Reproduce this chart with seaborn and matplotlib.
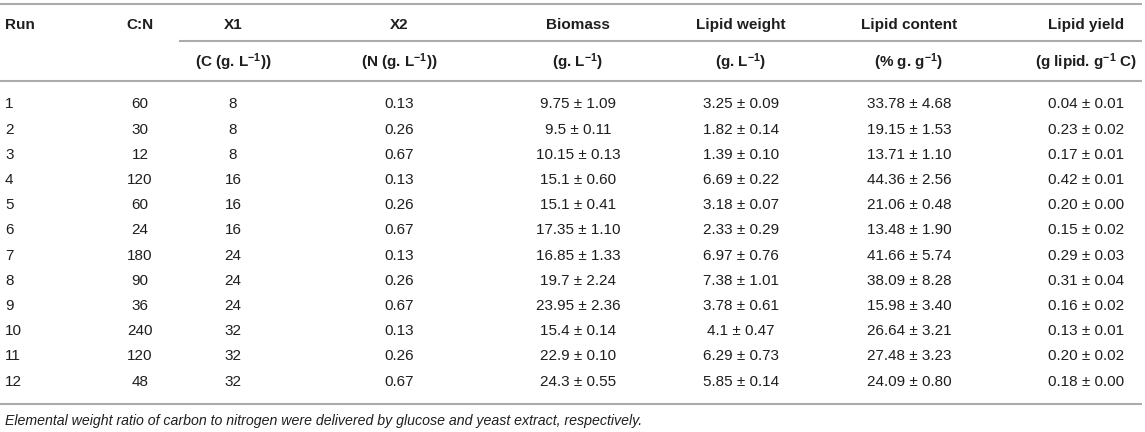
import matplotlib
matplotlib.use("Agg")
import matplotlib.pyplot as plt
import seaborn as sns

# ---------------- data ----------------
runs = list(range(1, 13))
cn_ratio = [60, 30, 12, 120, 60, 24, 180, 90, 36, 240, 120, 48]
x1_carbon = [8, 8, 8, 16, 16, 16, 24, 24, 24, 32, 32, 32]
x2_nitrogen = [0.13, 0.26, 0.67, 0.13, 0.26, 0.67, 0.13, 0.26, 0.67, 0.13, 0.26, 0.67]
biomass_mean = [9.75, 9.5, 10.15, 15.1, 15.1, 17.35, 16.85, 19.7, 23.95, 15.4, 22.9, 24.3]
biomass_sd = [1.09, 0.11, 0.13, 0.60, 0.41, 1.10, 1.33, 2.24, 2.36, 0.14, 0.10, 0.55]
lipid_weight_mean = [3.25, 1.82, 1.39, 6.69, 3.18, 2.33, 6.97, 7.38, 3.78, 4.1, 6.29, 5.85]
lipid_weight_sd = [0.09, 0.14, 0.10, 0.22, 0.07, 0.29, 0.76, 1.01, 0.61, 0.47, 0.73, 0.14]
lipid_content_mean = [33.78, 19.15, 13.71, 44.36, 21.06, 13.48, 41.66, 38.09, 15.98, 26.64, 27.48, 24.09]
lipid_content_sd = [4.68, 1.53, 1.10, 2.56, 0.48, 1.90, 5.74, 8.28, 3.40, 3.21, 3.23, 0.80]
lipid_yield_mean = [0.04, 0.23, 0.17, 0.42, 0.20, 0.15, 0.29, 0.31, 0.16, 0.13, 0.20, 0.18]
lipid_yield_sd = [0.01, 0.02, 0.01, 0.01, 0.00, 0.02, 0.03, 0.04, 0.02, 0.01, 0.02, 0.00]

header_top = ["Run", "C:N", "X1", "X2", "Biomass", "Lipid weight", "Lipid content", "Lipid yield"]
header_units = ["", "",
                r"(C (g. L$^{\mathbf{-1}}$))",
                r"(N (g. L$^{\mathbf{-1}}$))",
                r"(g. L$^{\mathbf{-1}}$)",
                r"(g. L$^{\mathbf{-1}}$)",
                r"(% g. g$^{\mathbf{-1}}$)",
                r"(g lipid. g$^{\mathbf{-1}}$ C)"]
footnote = ("Elemental weight ratio of carbon to nitrogen were delivered by "
            "glucose and yeast extract, respectively.")

# ---------------- style ----------------
sns.set_theme(style="white")
plt.rcParams["font.family"] = ["Liberation Sans", "DejaVu Sans"]
plt.rcParams["mathtext.fontset"] = "custom"
plt.rcParams["mathtext.rm"] = "Liberation Sans"
plt.rcParams["mathtext.bf"] = "Liberation Sans:bold"
plt.rcParams["mathtext.it"] = "Liberation Sans:italic"

W, H = 1145, 432
fig = plt.figure(figsize=(W / 100, H / 100), dpi=100)
ax = fig.add_axes([0, 0, 1, 1])
ax.set_xlim(0, W)
ax.set_ylim(H, 0)
ax.axis("off")

text_color = "#1e1e1e"
rule_color = "#ababab"
fs = 11

# layout
col_x = [5, 140, 233, 399, 578, 741, 909, 1086]
col_ha = ["left"] + ["center"] * 7
y_head1, y_head2 = 25, 62
y_row0, row_step = 104.5, 25.2

# rules
rule_lw = 1.5
ax.plot([0, 1142], [4, 4], color=rule_color, lw=rule_lw, solid_capstyle="butt")
ax.plot([179, 1142], [41, 41], color=rule_color, lw=rule_lw, solid_capstyle="butt")
ax.plot([0, 1142], [81, 81], color=rule_color, lw=rule_lw, solid_capstyle="butt")
ax.plot([0, 1142], [404, 404], color=rule_color, lw=rule_lw, solid_capstyle="butt")

# headers
for x, ha, t1, t2 in zip(col_x, col_ha, header_top, header_units):
    ax.text(x, y_head1, t1, ha=ha, va="center", fontsize=fs, fontweight="bold", color=text_color)
    if t2:
        ax.text(x, y_head2, t2, ha=ha, va="center", fontsize=fs, fontweight="bold", color=text_color)

# body
def fmt_g(m, s):
    return f"{m:g} \u00b1 {s:.2f}"

def fmt_2(m, s):
    return f"{m:.2f} \u00b1 {s:.2f}"

for i in range(len(runs)):
    y = y_row0 + i * row_step
    cells = [str(runs[i]), str(cn_ratio[i]), str(x1_carbon[i]), f"{x2_nitrogen[i]:.2f}",
             fmt_g(biomass_mean[i], biomass_sd[i]),
             fmt_g(lipid_weight_mean[i], lipid_weight_sd[i]),
             fmt_2(lipid_content_mean[i], lipid_content_sd[i]),
             fmt_2(lipid_yield_mean[i], lipid_yield_sd[i])]
    for x, ha, c in zip(col_x, col_ha, cells):
        ax.text(x, y, c, ha=ha, va="center", fontsize=fs, color=text_color)

ax.text(5, 421, footnote, ha="left", va="center", fontsize=10.2, style="italic", color=text_color)

fig.savefig("out.png", dpi=100)
